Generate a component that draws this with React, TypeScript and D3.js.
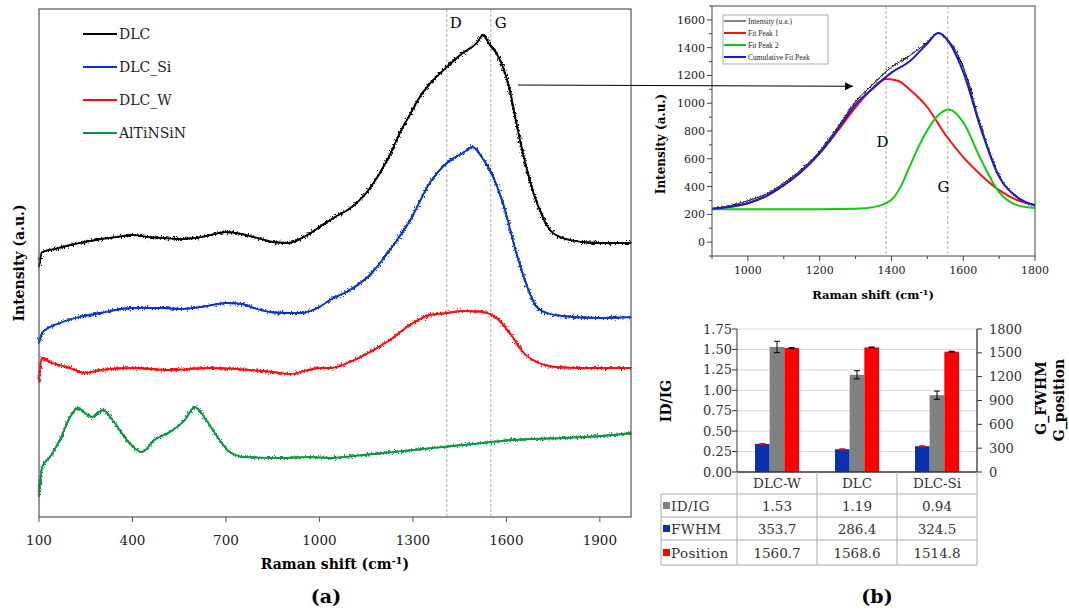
import React, { useEffect, useRef } from 'react';
import * as d3 from 'd3';

// ---------- (a) Raman spectra, intensity in arbitrary units ----------
const dlc: [number, number][] = [
  [100, 250], [110, 265], [150, 268], [200, 272], [250, 275], [300, 278], [350, 280], [400, 282],
  [450, 280], [500, 279], [550, 278], [600, 279], [650, 282], [700, 285], [750, 283], [800, 279],
  [850, 275], [900, 274], [950, 280], [1000, 290], [1050, 300], [1100, 309], [1160, 328], [1194, 344],
  [1226, 362], [1258, 384], [1290, 402], [1322, 420], [1354, 433], [1409, 450], [1460, 464],
  [1505, 474], [1525, 482], [1547, 472], [1568, 464], [1589, 450], [1611, 427], [1632, 394],
  [1653, 364], [1675, 337], [1707, 307], [1740, 287], [1781, 279], [1845, 275], [1900, 274], [2000, 274],
];
const dlcSi: [number, number][] = [
  [100, 174], [110, 184], [120, 187], [167, 194], [230, 200], [296, 204], [400, 209], [500, 209],
  [552, 208], [640, 211], [700, 214], [750, 213], [800, 208], [841, 205], [900, 204], [937, 204],
  [1000, 210], [1034, 217], [1098, 227], [1162, 242], [1226, 267], [1290, 296], [1354, 334],
  [1409, 354], [1460, 364], [1492, 370], [1525, 358], [1547, 347], [1589, 314], [1632, 264],
  [1675, 224], [1697, 210], [1729, 204], [1781, 201], [1890, 199], [2000, 200],
];
const dlcW: [number, number][] = [
  [100, 135], [108, 159], [135, 155], [200, 149], [248, 144], [296, 147], [400, 149], [520, 147],
  [648, 149], [777, 147], [850, 145], [905, 143], [1001, 149], [1034, 149], [1098, 155], [1162, 165],
  [1226, 177], [1290, 192], [1354, 202], [1409, 204], [1460, 206], [1525, 205], [1568, 199],
  [1611, 184], [1653, 165], [1697, 155], [1760, 150], [1835, 149], [2000, 149],
];
const alTiNSiN: [number, number][] = [
  [100, 20], [110, 50], [135, 60], [167, 77], [200, 100], [225, 109], [248, 104], [270, 100],
  [305, 107], [343, 94], [390, 74], [430, 65], [470, 77], [520, 85], [568, 97], [600, 110],
  [632, 99], [664, 84], [712, 65], [760, 60], [873, 59], [970, 60], [1034, 59], [1141, 62],
  [1301, 67], [1460, 72], [1622, 77], [1781, 79], [1941, 82], [2000, 84],
];
const spectraNames = ['DLC', 'DLC_Si', 'DLC_W', 'AlTiNSiN'];
const spectraColors = ['#000000', '#0a35c4', '#ff0a0a', '#0b9440'];
const mainTicks = [100, 400, 700, 1000, 1300, 1600, 1900];
const dgLines = [1409, 1550];

// ---------- inset: peak fit of DLC ----------
const fitIntensity: [number, number][] = [
  [900, 240], [950, 262], [1000, 298], [1050, 345], [1100, 425], [1150, 525], [1200, 655],
  [1250, 825], [1300, 1010], [1350, 1140], [1400, 1260], [1450, 1340], [1500, 1440], [1530, 1505],
  [1560, 1450], [1600, 1260], [1650, 830], [1700, 480], [1750, 320], [1800, 260],
];
const fitPeak1: [number, number][] = [
  [900, 240], [950, 255], [1000, 280], [1050, 330], [1100, 410], [1150, 510], [1200, 640],
  [1250, 800], [1300, 970], [1350, 1115], [1385, 1175], [1420, 1160], [1450, 1100], [1500, 971],
  [1550, 775], [1600, 612], [1650, 482], [1700, 374], [1750, 302], [1800, 266],
];
const fitPeak2: [number, number][] = [
  [900, 237], [1000, 237], [1100, 237], [1200, 237], [1300, 240], [1350, 252], [1400, 305],
  [1425, 396], [1450, 540], [1475, 684], [1500, 806], [1530, 913], [1560, 955], [1600, 863],
  [1650, 590], [1700, 360], [1750, 266], [1800, 245],
];
const fitCumulative: [number, number][] = [
  [900, 240], [950, 255], [1000, 280], [1050, 330], [1100, 410], [1150, 510], [1200, 640],
  [1250, 810], [1300, 990], [1350, 1110], [1400, 1220], [1450, 1300], [1500, 1430], [1530, 1505],
  [1560, 1440], [1600, 1225], [1650, 810], [1700, 470], [1750, 325], [1800, 265],
];
const fitNames = ['Intensity (u.a.)', 'Fit Peak 1', 'Fit Peak 2', 'Cumulative Fit Peak'];
const fitColors = ['#333333', '#ff1010', '#10cc10', '#1a1ad0'];
const fitDG = [1385, 1557];

// ---------- bar chart + table ----------
const samples = ['DLC-W', 'DLC', 'DLC-Si'];
const idig = [1.53, 1.19, 0.94];
const idigErr = [0.07, 0.05, 0.05];
const fwhm = [353.7, 286.4, 324.5];
const fwhmErr = [6, 6, 6];
const position = [1560.7, 1568.6, 1514.8];
const positionErr = [5, 5, 5];
const leftTicks = [0, 0.25, 0.5, 0.75, 1.0, 1.25, 1.5, 1.75];
const rightTicks = [0, 300, 600, 900, 1200, 1500, 1800];

const W = 1069;
const H = 611;

export default function App() {
  const ref = useRef<SVGSVGElement>(null);

  useEffect(() => {
    const svg = d3.select(ref.current);
    svg.selectAll('*').remove();
    const serif = 'DejaVu Serif, serif';

    const defs = svg.append('defs');
    // jagged look of the measured spectra
    const addJitter = (id: string, freq: string, scale: number) => {
      const f = defs.append('filter').attr('id', id)
        .attr('filterUnits', 'userSpaceOnUse')
        .attr('x', 0).attr('y', 0).attr('width', W).attr('height', H);
      f.append('feTurbulence').attr('type', 'fractalNoise').attr('baseFrequency', freq)
        .attr('numOctaves', 2).attr('seed', 7).attr('result', 'n');
      f.append('feDisplacementMap').attr('in', 'SourceGraphic').attr('in2', 'n').attr('scale', scale)
        .attr('xChannelSelector', 'R').attr('yChannelSelector', 'G');
    };
    addJitter('jitter', '0.7 0.5', 7);
    addJitter('jitterSmall', '0.8 0.6', 5);
    defs.append('marker').attr('id', 'arrow').attr('viewBox', '0 0 10 10')
      .attr('refX', 10).attr('refY', 5).attr('markerWidth', 16).attr('markerHeight', 8)
      .attr('markerUnits', 'userSpaceOnUse').attr('orient', 'auto')
      .append('path').attr('d', 'M0,0 L10,5 L0,10 z').attr('fill', '#000');

    // ================= (a) =================
    const A = { left: 39, right: 631, top: 9, bottom: 517 };
    const xa = d3.scaleLinear().domain([100, 2000]).range([A.left, A.right]);
    const ya = d3.scaleLinear().domain([0, 508]).range([A.bottom, A.top]);
    const ga = svg.append('g');

    dgLines.forEach(v => {
      ga.append('line').attr('x1', xa(v)).attr('x2', xa(v)).attr('y1', A.top).attr('y2', A.bottom)
        .attr('stroke', '#aaa').attr('stroke-width', 1).attr('stroke-dasharray', '3,2');
    });
    ga.append('text').attr('x', xa(dgLines[0]) + 3).attr('y', 28).text('D')
      .attr('font-family', serif).attr('font-size', 15);
    ga.append('text').attr('x', xa(dgLines[1]) + 4).attr('y', 28).text('G')
      .attr('font-family', serif).attr('font-size', 15);

    const lineA = d3.line<[number, number]>().x(d => xa(d[0])).y(d => ya(d[1])).curve(d3.curveMonotoneX);
    [dlc, dlcSi, dlcW, alTiNSiN].forEach((s, i) => {
      ga.append('path').datum(s).attr('d', lineA).attr('fill', 'none')
        .attr('stroke', spectraColors[i]).attr('stroke-width', 1.8);
      ga.append('path').datum(s).attr('d', lineA).attr('fill', 'none')
        .attr('stroke', spectraColors[i]).attr('stroke-width', 1.8).attr('filter', 'url(#jitter)');
    });

    ga.append('rect').attr('x', A.left).attr('y', A.top).attr('width', A.right - A.left)
      .attr('height', A.bottom - A.top).attr('fill', 'none').attr('stroke', '#555').attr('stroke-width', 1.2);

    mainTicks.forEach(t => {
      ga.append('line').attr('x1', xa(t)).attr('x2', xa(t)).attr('y1', A.bottom).attr('y2', A.bottom + 5)
        .attr('stroke', '#555');
      ga.append('text').attr('x', xa(t)).attr('y', A.bottom + 28).attr('text-anchor', 'middle')
        .attr('font-family', serif).attr('font-size', 13.5).attr('fill', '#222').text(t);
    });

    const xla = ga.append('text').attr('x', 335).attr('y', 569).attr('text-anchor', 'middle')
      .attr('font-family', serif).attr('font-weight', 'bold').attr('font-size', 14);
    xla.append('tspan').text('Raman shift (cm');
    xla.append('tspan').attr('dy', -5).attr('font-size', 10).text('-1');
    xla.append('tspan').attr('dy', 5).text(')');
    ga.append('text').attr('transform', `translate(24,${(A.top + A.bottom) / 2}) rotate(-90)`)
      .attr('text-anchor', 'middle').attr('font-family', serif).attr('font-weight', 'bold')
      .attr('font-size', 14).text('Intensity (a.u.)');
    ga.append('text').attr('x', 326).attr('y', 603).attr('text-anchor', 'middle')
      .attr('font-family', serif).attr('font-weight', 'bold').attr('font-size', 19).text('(a)');

    spectraNames.forEach((n, i) => {
      const y = 34 + i * 33;
      ga.append('line').attr('x1', 83).attr('x2', 117).attr('y1', y).attr('y2', y)
        .attr('stroke', spectraColors[i]).attr('stroke-width', 2);
      ga.append('text').attr('x', 119).attr('y', y + 5).attr('font-family', serif)
        .attr('font-size', 14).attr('fill', '#222').text(n);
    });

    // ================= inset =================
    const B = { left: 712, right: 1035, top: 6, bottom: 256 };
    const xb = d3.scaleLinear().domain([900, 1800]).range([B.left, B.right]);
    const yb = d3.scaleLinear().domain([-100, 1700]).range([B.bottom, B.top]);
    const gb = svg.append('g');

    fitDG.forEach(v => {
      gb.append('line').attr('x1', xb(v)).attr('x2', xb(v)).attr('y1', B.top).attr('y2', B.bottom)
        .attr('stroke', '#999').attr('stroke-width', 0.8).attr('stroke-dasharray', '3,2');
    });

    const lineB = d3.line<[number, number]>().x(d => xb(d[0])).y(d => yb(d[1])).curve(d3.curveMonotoneX);
    gb.append('path').datum(fitIntensity).attr('d', lineB).attr('fill', 'none')
      .attr('stroke', '#111').attr('stroke-width', 1).attr('filter', 'url(#jitterSmall)');
    gb.append('path').datum(fitIntensity).attr('d', lineB).attr('fill', 'none')
      .attr('stroke', '#111').attr('stroke-width', 0.8);
    [fitPeak1, fitPeak2, fitCumulative].forEach((s, i) => {
      gb.append('path').datum(s).attr('d', lineB).attr('fill', 'none')
        .attr('stroke', fitColors[i + 1]).attr('stroke-width', 2);
    });

    gb.append('rect').attr('x', B.left).attr('y', B.top).attr('width', B.right - B.left)
      .attr('height', B.bottom - B.top).attr('fill', 'none').attr('stroke', '#444').attr('stroke-width', 1);

    d3.range(900, 1801, 100).forEach(t => {
      const major = t % 200 === 0;
      gb.append('line').attr('x1', xb(t)).attr('x2', xb(t)).attr('y1', B.bottom)
        .attr('y2', B.bottom + (major ? 5 : 3)).attr('stroke', '#444');
      if (major) {
        gb.append('text').attr('x', xb(t)).attr('y', B.bottom + 18).attr('text-anchor', 'middle')
          .attr('font-family', serif).attr('font-size', 11).attr('fill', '#222').text(t);
      }
    });
    d3.range(-100, 1701, 100).forEach(t => {
      const major = t % 200 === 0 && t >= 0;
      gb.append('line').attr('x1', B.left).attr('x2', B.left - (major ? 5 : 3))
        .attr('y1', yb(t)).attr('y2', yb(t)).attr('stroke', '#444');
      if (major) {
        gb.append('text').attr('x', B.left - 7).attr('y', yb(t) + 4).attr('text-anchor', 'end')
          .attr('font-family', serif).attr('font-size', 11).attr('fill', '#222').text(t);
      }
    });

    const xlb = gb.append('text').attr('x', 873).attr('y', 299).attr('text-anchor', 'middle')
      .attr('font-family', serif).attr('font-weight', 'bold').attr('font-size', 11.5);
    xlb.append('tspan').text('Raman shift (cm');
    xlb.append('tspan').attr('dy', -4).attr('font-size', 8).text('-1');
    xlb.append('tspan').attr('dy', 4).text(')');
    gb.append('text').attr('transform', 'translate(665,144) rotate(-90)').attr('text-anchor', 'middle')
      .attr('font-family', serif).attr('font-weight', 'bold').attr('font-size', 12).text('Intensity (a.u.)');

    gb.append('text').attr('x', xb(1375)).attr('y', yb(720)).attr('text-anchor', 'middle')
      .attr('dominant-baseline', 'central').attr('font-family', serif).attr('font-size', 15).text('D');
    gb.append('text').attr('x', xb(1545)).attr('y', yb(395)).attr('text-anchor', 'middle')
      .attr('dominant-baseline', 'central').attr('font-family', serif).attr('font-size', 15).text('G');

    // legend
    gb.append('rect').attr('x', 723).attr('y', 15).attr('width', 105).attr('height', 49)
      .attr('fill', '#fff').attr('stroke', '#999').attr('stroke-width', 0.8);
    fitNames.forEach((n, i) => {
      const y = 21 + i * 12;
      gb.append('line').attr('x1', 724).attr('x2', 746).attr('y1', y).attr('y2', y)
        .attr('stroke', fitColors[i]).attr('stroke-width', i === 0 ? 1.2 : 2);
      gb.append('text').attr('x', 748).attr('y', y + 2.5).attr('font-family', 'Liberation Serif, serif')
        .attr('font-size', 7.5).attr('fill', '#222').text(n);
    });

    // arrow from panel (a) to inset
    svg.append('line').attr('x1', xa(1637)).attr('y1', ya(432)).attr('x2', xb(1293)).attr('y2', yb(1122))
      .attr('stroke', '#000').attr('stroke-width', 1).attr('marker-end', 'url(#arrow)');

    // ================= (b) bars + table =================
    const C = { left: 737, right: 977, top: 329, bottom: 472 };
    const xc = d3.scaleBand().domain(samples).range([C.left, C.right]);
    const sub = d3.scaleBand().domain(['FWHM', 'IDIG', 'Pos']).range([18, 62]);
    const yl = d3.scaleLinear().domain([0, 1.75]).range([C.bottom, C.top]);
    const yr = d3.scaleLinear().domain([0, 1800]).range([C.bottom, C.top]);
    const gc = svg.append('g');

    leftTicks.slice(1).forEach(t => {
      gc.append('line').attr('x1', C.left).attr('x2', C.right).attr('y1', yl(t)).attr('y2', yl(t))
        .attr('stroke', '#d8d8d8').attr('stroke-width', 1);
    });

    const errBar = (x: number, y0: number, y1: number, color: string) => {
      gc.append('line').attr('x1', x).attr('x2', x).attr('y1', y0).attr('y2', y1).attr('stroke', color).attr('stroke-width', 1);
      [y0, y1].forEach(y => gc.append('line').attr('x1', x - 3).attr('x2', x + 3).attr('y1', y).attr('y2', y)
        .attr('stroke', color).attr('stroke-width', 1));
    };

    samples.forEach((s, i) => {
      const x0 = xc(s) as number;
      const bw = sub.bandwidth();
      // FWHM (blue, right axis)
      gc.append('rect').attr('x', x0 + (sub('FWHM') as number)).attr('y', yr(fwhm[i]))
        .attr('width', bw).attr('height', C.bottom - yr(fwhm[i])).attr('fill', '#0a30b0');
      errBar(x0 + (sub('FWHM') as number) + bw / 2, yr(fwhm[i] + fwhmErr[i]), yr(fwhm[i] - fwhmErr[i]), '#ff0000');
      // ID/IG (gray, left axis)
      gc.append('rect').attr('x', x0 + (sub('IDIG') as number)).attr('y', yl(idig[i]))
        .attr('width', bw).attr('height', C.bottom - yl(idig[i])).attr('fill', '#808080');
      errBar(x0 + (sub('IDIG') as number) + bw / 2, yl(idig[i] + idigErr[i]), yl(idig[i] - idigErr[i]), '#000');
      // Position (red, right axis)
      gc.append('rect').attr('x', x0 + (sub('Pos') as number)).attr('y', yr(position[i]))
        .attr('width', bw).attr('height', C.bottom - yr(position[i])).attr('fill', '#ff0000');
      errBar(x0 + (sub('Pos') as number) + bw / 2, yr(position[i] + positionErr[i]), yr(position[i] - positionErr[i]), '#000');
    });

    // axes
    gc.append('line').attr('x1', C.left).attr('x2', C.left).attr('y1', C.top).attr('y2', C.bottom).attr('stroke', '#333');
    gc.append('line').attr('x1', C.right).attr('x2', C.right).attr('y1', C.top).attr('y2', C.bottom).attr('stroke', '#333').attr('stroke-width', 1.3);
    gc.append('line').attr('x1', C.left).attr('x2', C.right).attr('y1', C.bottom).attr('y2', C.bottom).attr('stroke', '#333').attr('stroke-width', 1.3);

    leftTicks.forEach(t => {
      gc.append('line').attr('x1', C.left - 5).attr('x2', C.left).attr('y1', yl(t)).attr('y2', yl(t)).attr('stroke', '#333');
      gc.append('text').attr('x', C.left - 5).attr('y', yl(t) + 4.5).attr('text-anchor', 'end')
        .attr('font-family', serif).attr('font-size', 13).attr('fill', '#333').text(t.toFixed(2));
    });
    rightTicks.forEach(t => {
      gc.append('line').attr('x1', C.right).attr('x2', C.right + 5).attr('y1', yr(t)).attr('y2', yr(t)).attr('stroke', '#333');
      gc.append('text').attr('x', C.right + 12).attr('y', yr(t) + 4.5).attr('text-anchor', 'start')
        .attr('font-family', serif).attr('font-size', 13).attr('fill', '#333').text(t);
    });

    gc.append('text').attr('transform', 'translate(671,401) rotate(-90)').attr('text-anchor', 'middle')
      .attr('font-family', serif).attr('font-weight', 'bold').attr('font-size', 14).text('ID/IG');
    gc.append('text').attr('transform', 'translate(1046,398) rotate(-90)').attr('text-anchor', 'middle')
      .attr('font-family', serif).attr('font-weight', 'bold').attr('font-size', 14).text('G_FWHM');
    gc.append('text').attr('transform', 'translate(1064,400) rotate(-90)').attr('text-anchor', 'middle')
      .attr('font-family', serif).attr('font-weight', 'bold').attr('font-size', 14).text('G_position');

    // table
    const rowY = [472, 494, 517, 540, 565];
    const tLeft = 661;
    const grid = '#aaa';
    rowY.slice(1).forEach(y => {
      gc.append('line').attr('x1', tLeft).attr('x2', C.right).attr('y1', y).attr('y2', y).attr('stroke', grid);
    });
    gc.append('line').attr('x1', tLeft).attr('x2', tLeft).attr('y1', rowY[1]).attr('y2', rowY[4]).attr('stroke', grid);
    samples.forEach(s => {
      const x0 = xc(s) as number;
      gc.append('line').attr('x1', x0).attr('x2', x0).attr('y1', rowY[0]).attr('y2', rowY[4]).attr('stroke', grid);
    });
    gc.append('line').attr('x1', C.right).attr('x2', C.right).attr('y1', rowY[0]).attr('y2', rowY[4]).attr('stroke', grid);

    samples.forEach(s => {
      const cx = (xc(s) as number) + xc.bandwidth() / 2;
      gc.append('text').attr('x', cx).attr('y', (rowY[0] + rowY[1]) / 2 + 5).attr('text-anchor', 'middle')
        .attr('font-family', serif).attr('font-size', 13.5).attr('fill', '#333').text(s);
    });
    const rows = [
      { label: 'ID/IG', color: '#808080', vals: idig.map(v => v.toFixed(2)) },
      { label: 'FWHM', color: '#0a30b0', vals: fwhm.map(v => v.toFixed(1)) },
      { label: 'Position', color: '#ff0000', vals: position.map(v => v.toFixed(1)) },
    ];
    rows.forEach((r, i) => {
      const cy = (rowY[i + 1] + rowY[i + 2]) / 2;
      gc.append('rect').attr('x', 663).attr('y', cy - 3.5).attr('width', 7).attr('height', 7).attr('fill', r.color);
      gc.append('text').attr('x', 671).attr('y', cy + 5).attr('font-family', serif).attr('font-size', 13.5)
        .attr('letter-spacing', 0.4).attr('fill', '#333').text(r.label);
      samples.forEach((s, j) => {
        const cx = (xc(s) as number) + xc.bandwidth() / 2;
        gc.append('text').attr('x', cx).attr('y', cy + 5).attr('text-anchor', 'middle')
          .attr('font-family', serif).attr('font-size', 13.5).attr('fill', '#333').text(r.vals[j]);
      });
    });

    gc.append('text').attr('x', 877).attr('y', 603).attr('text-anchor', 'middle')
      .attr('font-family', serif).attr('font-weight', 'bold').attr('font-size', 19).text('(b)');
  }, []);

  return (
    <svg ref={ref} width={W} height={H}
      style={{ position: 'absolute', left: 0, top: 0, background: '#fff' }} />
  );
}
